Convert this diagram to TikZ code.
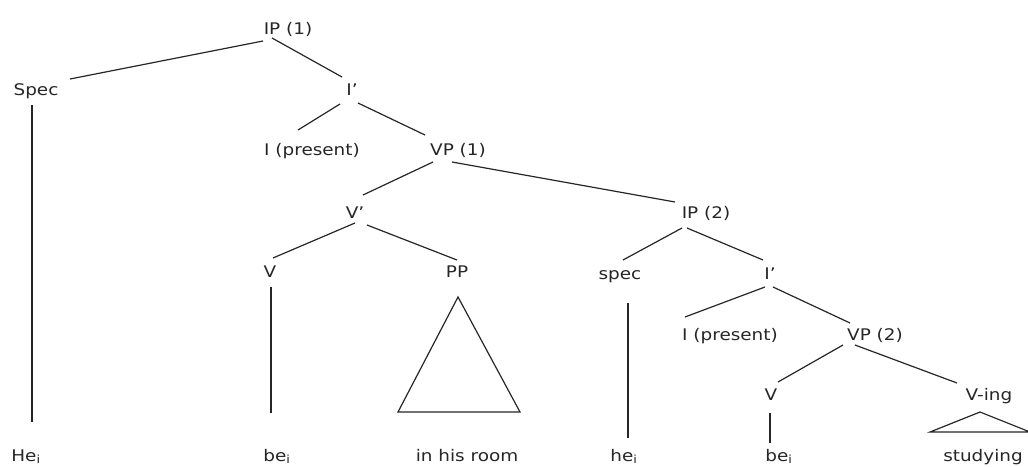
\documentclass[tikz,border=0pt]{standalone}
\usepackage{fontspec}
\setmainfont{DejaVu Sans}[FakeStretch=1.15]
\usetikzlibrary{calc}
\begin{document}
\begin{tikzpicture}[x=1pt,y=-1pt,
  lbl/.style={inner sep=0pt,text height=12pt,text depth=3pt,text=black!85,
    font=\fontsize{16}{18}\selectfont},
  edge/.style={line width=1.2pt,draw=black!85}]
\useasboundingbox (0,0) rectangle (1028,466);
\clip (0,0) rectangle (1028,466);
% row 1
\node[lbl] (ip1) at (288,29.5) {IP (1)};
% row 2
\node[lbl] (spec) at (36,90.5) {Spec};
\node[lbl] (i1) at (352,90.5) {I’};
% row 3
\node[lbl] (ipres1) at (312,150.5) {I (present)};
\node[lbl] (vp1) at (458,150.5) {VP (1)};
% row 4
\node[lbl] (vbar) at (355,213.5) {V’};
\node[lbl] (ip2) at (706,213.5) {IP (2)};
% row 5
\node[lbl] (v1) at (270,272.5) {V};
\node[lbl] (pp) at (457,272.5) {PP};
\node[lbl] (spec2) at (620,274.5) {spec};
\node[lbl] (i2) at (770,274.5) {I’};
% row 6
\node[lbl] (ipres2) at (730,335.5) {I (present)};
\node[lbl] (vp2) at (875,335.5) {VP (2)};
% row 7
\node[lbl] (v2) at (771,395.5) {V};
\node[lbl] (ving) at (989,395.5) {V-ing};
% bottom words
\node[lbl] (he1) at (26,456.5) {He\textsubscript{i}};
\node[lbl] (be1) at (277,456.5) {be\textsubscript{i}};
\node[lbl] (inroom) at (467,456.5) {in his room};
\node[lbl] (he2) at (624,456.5) {he\textsubscript{i}};
\node[lbl] (be2) at (779,456.5) {be\textsubscript{i}};
\node[lbl] (studying) at (983,456.5) {studying};
% connectors
\draw[edge] ($(ip1)+(-25,11.5)$) -- ($(spec)+(34,-11.5)$);
\draw[edge] ($(ip1)+(-16,8.5)$) -- ($(i1)+(-10,-13.5)$);
\draw[edge] ($(spec)+(-4,14.5)$) -- ($(he1)+(6,-34.5)$);
\draw[edge] ($(i1)+(-12,13.5)$) -- ($(ipres1)+(-14,-20.5)$);
\draw[edge] ($(i1)+(6,12.5)$) -- ($(vp1)+(-33,-15.5)$);
\draw[edge] ($(vp1)+(-25,11.5)$) -- ($(vbar)+(8,-18.5)$);
\draw[edge] ($(vp1)+(-6,11.5)$) -- ($(ip2)+(-31,-11.5)$);
\draw[edge] ($(vbar)+(0,9.5)$) -- ($(v1)+(3,-14.5)$);
\draw[edge] ($(vbar)+(12,11.5)$) -- ($(pp)+(0,-12.5)$);
\draw[edge] ($(v1)+(1,14.5)$) -- ($(be1)+(-6,-43.5)$);
\draw[edge] ($(pp)+(1,24.5)$) -- ($(pp)+(-59,139.5)$) -- ($(pp)+(63,139.5)$) -- cycle;
\draw[edge] ($(ip2)+(-24,14.5)$) -- ($(spec2)+(3,-14.5)$);
\draw[edge] ($(ip2)+(-19,14.5)$) -- ($(i2)+(-7,-14.5)$);
\draw[edge] ($(spec2)+(8,28.5)$) -- ($(he2)+(4,-18.5)$);
\draw[edge] ($(i2)+(-5,12.5)$) -- ($(ipres2)+(-45,-18.5)$);
\draw[edge] ($(i2)+(3,12.5)$) -- ($(vp2)+(-25,-12.5)$);
\draw[edge] ($(vp2)+(-32,9.5)$) -- ($(v2)+(7,-13.5)$);
\draw[edge] ($(vp2)+(-20,9.5)$) -- ($(ving)+(-32,-12.5)$);
\draw[edge] ($(v2)+(-1,17.5)$) -- ($(be2)+(-9,-13.5)$);
\draw[edge] ($(ving)+(-9,16.5)$) -- ($(ving)+(-59,36.5)$) -- ($(ving)+(41,36.5)$) -- cycle;
\end{tikzpicture}
\end{document}
